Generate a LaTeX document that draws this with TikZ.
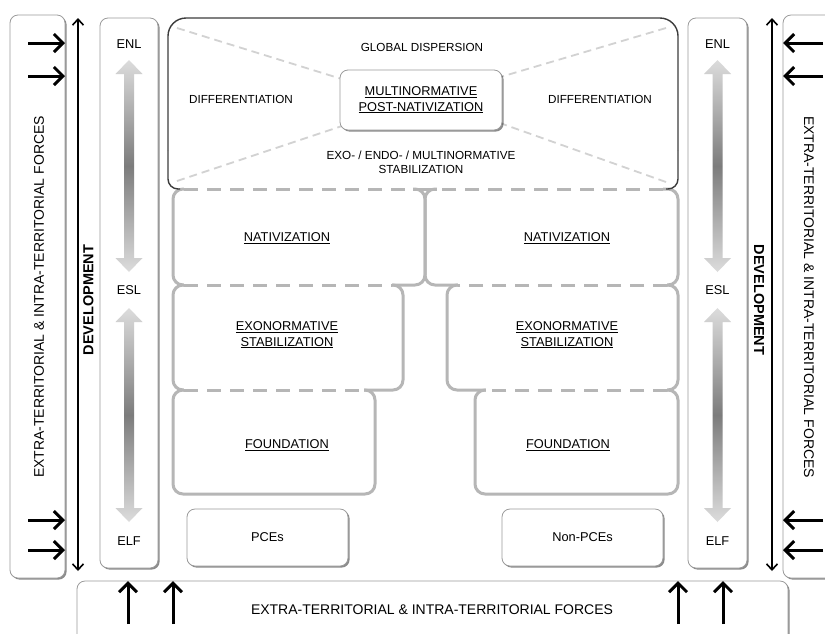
\documentclass[tikz,border=0pt]{standalone}
\usepackage{fontspec}
\setmainfont{Liberation Sans}
\usetikzlibrary{arrows.meta,shadows}
\definecolor{panelgray}{HTML}{B6B6B6}
\definecolor{diaggray}{HTML}{D2D2D2}
\definecolor{boxline}{HTML}{9A9A9A}
\definecolor{gradlight}{HTML}{DCDCDC}
\definecolor{graddark}{HTML}{7C7C7C}
\definecolor{topln}{HTML}{3C3C3C}
\tikzset{
  shbox/.style={draw=boxline, line width=0.8pt, fill=white, rounded corners=8pt,
    inner sep=0pt, outer sep=0pt,
    drop shadow={shadow xshift=1.6pt, shadow yshift=-1.6pt, opacity=0.45, fill=black}},
  panelbox/.style={draw=panelgray, line width=3pt, rounded corners=10pt, inner sep=0pt, outer sep=0pt},
  erase/.style={draw=white, line width=4pt},
  dashln/.style={draw=panelgray, line width=3pt, dash pattern=on 14pt off 9pt},
  diagln/.style={draw=diaggray, line width=1.8pt, dash pattern=on 8pt off 5pt},
  toplnstyle/.style={draw=topln, line width=1.4pt},
  force/.style={line width=3pt, -{Straight Barb[length=9pt,width=18pt]}},
  devarr/.style={line width=1.6pt, {Straight Barb[length=6pt,width=11pt]}-{Straight Barb[length=6pt,width=11pt]}},
  lab/.style={font=\fontsize{11.7}{14}\selectfont, align=center, inner sep=0pt},
  ullab/.style={font=\fontsize{12.8}{15.5}\selectfont, align=center, inner sep=0pt},
  forcetxt/.style={font=\fontsize{14}{16}\selectfont, inner sep=0pt},
  devtxt/.style={font=\bfseries\fontsize{14.5}{16}\selectfont, inner sep=0pt},
  gradarrow/.style={top color=gradlight, bottom color=gradlight, middle color=graddark},
}
\newcommand\gradarr[3]{% x, ytop, ybottom
  \shade[gradarrow] (#1,#2) -- ({#1+13.5},{#2+14}) -- ({#1+5},{#2+14}) -- ({#1+5},{#3-14})
    -- ({#1+13.5},{#3-14}) -- (#1,#3) -- ({#1-13.5},{#3-14}) -- ({#1-5},{#3-14})
    -- ({#1-5},{#2+14}) -- ({#1-13.5},{#2+14}) -- cycle;}
\begin{document}
\begin{tikzpicture}[x=1pt,y=-1pt]
\useasboundingbox (0,0) rectangle (825,633);
\fill[white] (0,0) rectangle (825,633);

% ---------- outer force panels ----------
\node[shbox, minimum width=55pt, minimum height=563pt] (outerL) at (37.5,296.5) {};
\node[shbox, minimum width=55pt, minimum height=563pt] (outerR) at (810.5,296.5) {};
\node[shbox, minimum width=711pt, minimum height=64pt] (outerB) at (432.5,613) {};
\node[forcetxt, rotate=90] (txtL) at (39,297) {EXTRA-TERRITORIAL \& INTRA-TERRITORIAL FORCES};
\node[forcetxt, rotate=-90] (txtR) at (809,297) {EXTRA-TERRITORIAL \& INTRA-TERRITORIAL FORCES};
\node[forcetxt] (txtB) at (432,610) {EXTRA-TERRITORIAL \& INTRA-TERRITORIAL FORCES};

% force arrows
\foreach \yy [count=\i] in {43,76,520,550}{
  \coordinate (fl\i) at (28,\yy);
  \draw[force] (fl\i) -- (fl\i -| outerL.east);
  \coordinate (fr\i) at (823,\yy);
  \draw[force] (fr\i) -- (fr\i -| outerR.west);
}
\foreach \xx [count=\i] in {128,173,678,723}{
  \coordinate (fb\i) at (\xx,624);
  \draw[force] (fb\i) -- (fb\i |- outerB.north);
}

% ---------- development arrows ----------
\coordinate (dLt) at (78,18);  \coordinate (dLb) at (78,571);
\coordinate (dRt) at (772,18); \coordinate (dRb) at (772,571);
\draw[devarr] (dLb) -- (dLt);
\draw[devarr] (dRb) -- (dRt);
\node[devtxt, rotate=90] (devL) at (88.5,300) {DEVELOPMENT};
\node[devtxt, rotate=-90] (devR) at (759,300) {DEVELOPMENT};

% ---------- ENL / ESL / ELF columns ----------
\node[shbox, minimum width=58pt, minimum height=550pt] (colL) at (129,293) {};
\node[shbox, minimum width=59pt, minimum height=550pt] (colR) at (717.5,293) {};
\gradarr{129}{60}{272}
\gradarr{129}{308}{522}
\gradarr{717.5}{60}{272}
\gradarr{717.5}{308}{522}
\node[ullab] (enlL) at (129,44) {ENL};
\node[ullab] (eslL) at (129,290) {ESL};
\node[ullab] (elfL) at (129,541) {ELF};
\node[ullab] (enlR) at (717.5,44) {ENL};
\node[ullab] (eslR) at (717.5,290) {ESL};
\node[ullab] (elfR) at (717.5,541) {ELF};

% ---------- stacked grey panels ----------
\node[panelbox, minimum width=252pt, minimum height=96pt]  (natL) at (299,237) {};
\node[panelbox, minimum width=253pt, minimum height=96pt]  (natR) at (551.5,237) {};
\node[panelbox, minimum width=230pt, minimum height=105pt] (exoL) at (288,337.5) {};
\node[panelbox, minimum width=231pt, minimum height=105pt] (exoR) at (562.5,337.5) {};
\node[panelbox, minimum width=202pt, minimum height=104pt] (fouL) at (274,442) {};
\node[panelbox, minimum width=203pt, minimum height=104pt] (fouR) at (576.5,442) {};

% ---------- top box ----------
\draw[toplnstyle, rounded corners=18pt] (168,150) -- (168,18) -- (678,18) -- (678,150);
\draw[toplnstyle, rounded corners=10pt] (168,150) -- (168,189) -- (180,189);
\draw[toplnstyle, rounded corners=10pt] (678,150) -- (678,189) -- (666,189);

% shared edges: erase and dash
\coordinate (a1) at (184,189); \coordinate (a2) at (413,189);
\coordinate (a3) at (437,189); \coordinate (a4) at (663,189);
\draw[erase] (a1) -- (a2); \draw[erase] (a3) -- (a4);
\draw[dashln] (a1) -- (a2); \draw[dashln] (a4) -- (a3);
\draw[draw=panelgray, line width=3pt] (a2) -- (a3);
\coordinate (b1) at (184,285); \coordinate (b2) at (392,285);
\coordinate (b3) at (458,285); \coordinate (b4) at (667,285);
\draw[erase] (b1) -- (b2); \draw[erase] (b3) -- (b4);
\draw[dashln] (b1) -- (b2); \draw[dashln] (b4) -- (b3);
\coordinate (c1) at (184,390); \coordinate (c2) at (364,390);
\coordinate (c3) at (486,390); \coordinate (c4) at (667,390);
\draw[erase] (c1) -- (c2); \draw[erase] (c3) -- (c4);
\draw[dashln] (c1) -- (c2); \draw[dashln] (c4) -- (c3);

% diagonal dashed lines in top box
\coordinate (g1) at (177,28);  \coordinate (g2) at (345,80);
\coordinate (g3) at (177,181); \coordinate (g4) at (345,125);
\coordinate (g5) at (666,28);  \coordinate (g6) at (497,78);
\coordinate (g7) at (666,182); \coordinate (g8) at (497,122);
\draw[diagln] (g1) -- (g2);
\draw[diagln] (g3) -- (g4);
\draw[diagln] (g5) -- (g6);
\draw[diagln] (g7) -- (g8);

\node[shbox, ullab, minimum width=162pt, minimum height=60pt] (multi) at (421,100)
  {\underline{MULTINORMATIVE}\\\underline{POST-NATIVIZATION}};

\node[lab] (glob) at (422,47) {GLOBAL DISPERSION};
\node[lab] (difL) at (241,99) {DIFFERENTIATION};
\node[lab] (difR) at (600,99) {DIFFERENTIATION};
\node[lab] (stab) at (421,162) {EXO- / ENDO- / MULTINORMATIVE\\STABILIZATION};

\node[ullab] (tnatL) at (287,238) {\underline{NATIVIZATION}};
\node[ullab] (tnatR) at (567,238) {\underline{NATIVIZATION}};
\node[ullab] (texoL) at (287,335) {\underline{EXONORMATIVE}\\\underline{STABILIZATION}};
\node[ullab] (texoR) at (567,335) {\underline{EXONORMATIVE}\\\underline{STABILIZATION}};
\node[ullab] (tfouL) at (287,445) {\underline{FOUNDATION}};
\node[ullab] (tfouR) at (568,445) {\underline{FOUNDATION}};

% ---------- PCEs / Non-PCEs ----------
\node[shbox, ullab, minimum width=161pt, minimum height=57pt] (pce) at (267.5,537.5) {PCEs};
\node[shbox, ullab, minimum width=161pt, minimum height=57pt] (npce) at (582.5,537.5) {Non-PCEs};
\end{tikzpicture}
\end{document}
